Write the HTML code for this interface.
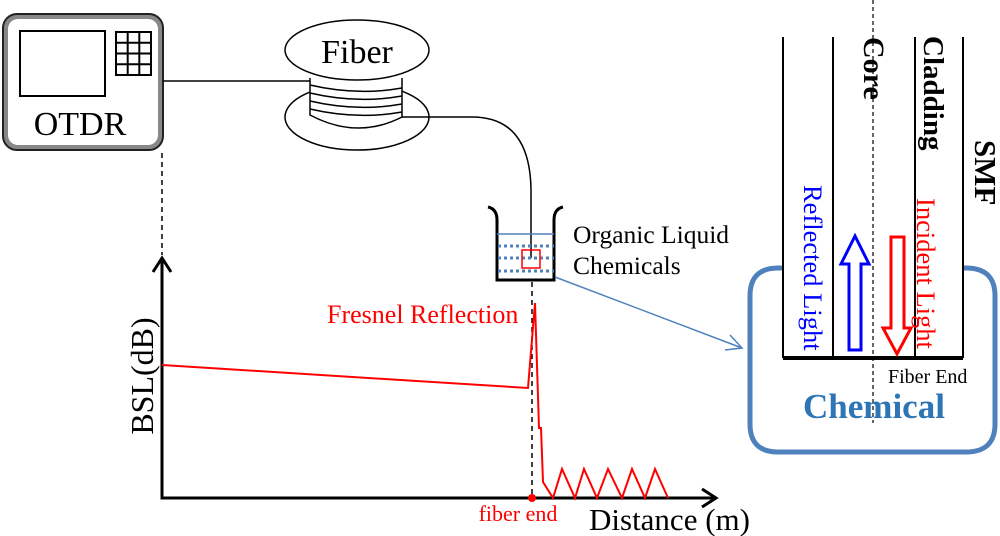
<!DOCTYPE html>
<html><head><meta charset="utf-8"><style>
html,body{margin:0;padding:0;background:#fff;}
svg{display:block;font-family:"Liberation Serif",serif;}
</style></head><body>
<svg width="1000" height="536" viewBox="0 0 1000 536" xmlns="http://www.w3.org/2000/svg">
<!-- OTDR -->
<rect x="3" y="14" width="160" height="136" rx="14" fill="#888" stroke="#222" stroke-width="2"/>
<rect x="8" y="19" width="150" height="126" rx="10" fill="#fff"/>
<rect x="20" y="31" width="85" height="65" fill="#fff" stroke="#000" stroke-width="2"/>
<g stroke="#000" stroke-width="2" fill="none">
<rect x="116" y="32" width="35" height="43"/>
<line x1="127.7" y1="32" x2="127.7" y2="75"/><line x1="139.3" y1="32" x2="139.3" y2="75"/>
<line x1="116" y1="42.7" x2="151" y2="42.7"/><line x1="116" y1="53.5" x2="151" y2="53.5"/><line x1="116" y1="64.2" x2="151" y2="64.2"/>
</g>
<text x="80" y="135" font-size="34" text-anchor="middle">OTDR</text>
<line x1="163" y1="81" x2="312" y2="81" stroke="#000" stroke-width="1.5"/>
<!-- fiber spool -->
<ellipse cx="357" cy="117" rx="72" ry="33" fill="#fff" stroke="#000" stroke-width="1.5"/>
<path d="M310,78 L310,115 Q357,140 402,117 L402,78" fill="#fff" stroke="#000" stroke-width="1.5"/>
<g fill="none" stroke="#000" stroke-width="1.5">
<path d="M310,85 Q357,96 402,88"/><path d="M310,93 Q357,104 402,96"/><path d="M310,101 Q357,112 402,104"/><path d="M310,109 Q357,120 402,112"/>
</g>
<ellipse cx="357" cy="50" rx="72" ry="30" fill="#fff" stroke="#000" stroke-width="1.5"/>
<text x="357" y="63" font-size="34" text-anchor="middle">Fiber</text>
<path d="M402,117 L472,117 Q530,117 531,190 L531,258" fill="none" stroke="#000" stroke-width="1.5"/>
<!-- beaker -->
<path d="M488,207 Q497,209 497,220 L497,280 L554,280 L554,220 Q554,209 563,207" fill="none" stroke="#000" stroke-width="3"/>
<line x1="497" y1="234" x2="554" y2="234" stroke="#4f81bd" stroke-width="1.5"/>
<g stroke="#4f81bd" stroke-width="3" stroke-dasharray="3,3">
<line x1="498" y1="246" x2="554" y2="246"/><line x1="498" y1="258" x2="554" y2="258"/><line x1="498" y1="271" x2="554" y2="271"/>
</g>
<rect x="522" y="250" width="18" height="18" fill="none" stroke="#f00" stroke-width="1.5"/>
<text x="573" y="243" font-size="25.5">Organic Liquid</text>
<text x="573" y="274" font-size="25.5">Chemicals</text>
<!-- connector -->
<line x1="555" y1="277" x2="742" y2="348" stroke="#4f81bd" stroke-width="1.5"/>
<polyline points="730,335 742,348 725,350" fill="none" stroke="#4f81bd" stroke-width="1.5"/>
<!-- dashed lines -->
<line x1="162" y1="153" x2="162" y2="255" stroke="#000" stroke-width="1.5" stroke-dasharray="5,4"/>
<line x1="532" y1="282" x2="532" y2="498" stroke="#000" stroke-width="1.5" stroke-dasharray="5,4"/>
<!-- axes -->
<polyline points="162,258 162,498 715,498" fill="none" stroke="#000" stroke-width="3"/>
<polyline points="153,272 162,258 171,272" fill="none" stroke="#000" stroke-width="3"/>
<polyline points="702,489 716,498 702,507" fill="none" stroke="#000" stroke-width="3"/>
<text transform="translate(153,376) rotate(-90)" font-size="32" text-anchor="middle">BSL(dB)</text>
<text x="589" y="530" font-size="31">Distance (m)</text>
<!-- trace -->
<polyline points="162,365 528,388 535,303 539,428 541,428 543,482 553,498 562,469 575,498 584,469 597,498 608,469 622,498 632,469 645,498 655,469 668,498" fill="none" stroke="#f00" stroke-width="2"/>
<circle cx="532" cy="498" r="4" fill="#f00"/>
<text x="327" y="323" font-size="26" fill="#f00">Fresnel Reflection</text>
<text x="518" y="521" font-size="22" fill="#f00" text-anchor="middle">fiber end</text>
<!-- right: SMF -->
<path d="M783,268 L778,268 Q750,268 750,296 L750,424 Q750,452 778,452 L966,452 Q995,452 995,424 L995,296 Q995,268 966,268 L963,268" fill="none" stroke="#4f81bd" stroke-width="5"/>
<g stroke="#000" stroke-width="2">
<line x1="783" y1="37" x2="783" y2="358"/><line x1="833" y1="37" x2="833" y2="358"/>
<line x1="915" y1="37" x2="915" y2="358"/><line x1="963" y1="37" x2="963" y2="358"/>
</g>
<line x1="783" y1="358" x2="963" y2="358" stroke="#000" stroke-width="4"/>
<line x1="873" y1="0" x2="873" y2="423" stroke="#000" stroke-width="1.2" stroke-dasharray="4,3"/>
<g font-weight="bold">
<text transform="translate(864,37) rotate(90)" font-size="30">Core</text>
<text transform="translate(924,36) rotate(90)" font-size="29">Cladding</text>
<text transform="translate(975,140) rotate(90)" font-size="31">SMF</text>
</g>
<text transform="translate(804,185) rotate(90)" font-size="26.5" fill="#00f">Reflected Light</text>
<text transform="translate(917,198) rotate(90)" font-size="26.5" fill="#f00">Incident Light</text>
<polygon points="849,350 861,350 861,264 869,264 855,236 841,264 849,264" fill="#fff" stroke="#00f" stroke-width="3"/>
<polygon points="891,237 904,237 904,328 911,328 897,354 883,328 891,328" fill="#fff" stroke="#f00" stroke-width="3"/>
<text x="888" y="383" font-size="20">Fiber End</text>
<text x="874" y="418" font-size="35" font-weight="bold" fill="#2e75b6" text-anchor="middle">Chemical</text>
</svg>
</body></html>
